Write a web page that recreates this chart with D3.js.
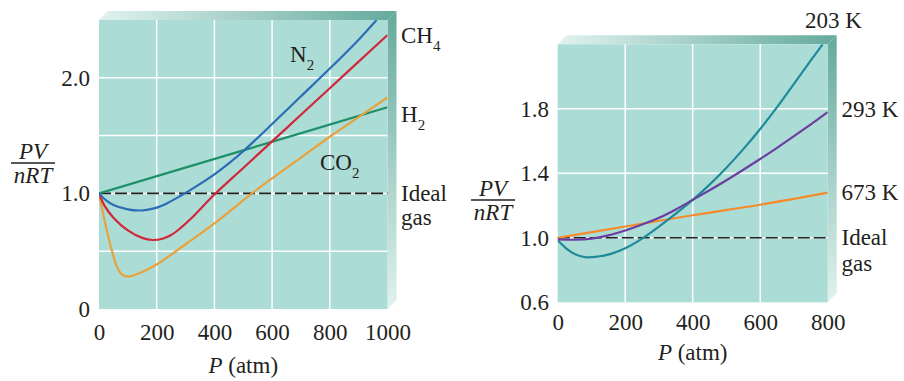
<!DOCTYPE html>
<html>
<head>
<meta charset="utf-8">
<script src="https://cdn.jsdelivr.net/npm/d3@7"></script>
<style>
  body { margin: 0; background: #fff; }
</style>
</head>
<body>
<div class="area"></div>
<script>
const width = 904
const height = 381
const fontFamily = '"Liberation Serif", "Times New Roman", serif'
const fontSize = 23
const textColor = "#231f20"
const plotFill = "#acdcd6"
const depth = 9

// ---- left panel: different gases ----
const gasTicksX = [0, 200, 400, 600, 800, 1000]
const gasTicksY = [0, 1, 2]
const gasTickLabelsY = ["0", "1.0", "2.0"]
const gasGridX = [200, 400, 600, 800]
const gasGridY = [0.5, 1.0, 1.5, 2.0]

const n2 = [[0, 1.0], [25, 0.94], [50, 0.9], [100, 0.862], [140, 0.852], [170, 0.86], [200, 0.877],
  [240, 0.92], [280, 0.975], [330, 1.05], [400, 1.165], [450, 1.26], [500, 1.365], [600, 1.6],
  [700, 1.84], [800, 2.08], [900, 2.33], [962, 2.5]]
const ch4 = [[0, 1.0], [20, 0.89], [50, 0.79], [100, 0.68], [150, 0.615], [185, 0.597], [220, 0.608],
  [250, 0.64], [280, 0.695], [320, 0.785], [400, 0.99], [500, 1.22], [600, 1.45], [700, 1.68],
  [800, 1.91], [900, 2.14], [1000, 2.37]]
const h2 = [[0, 1.0], [500, 1.372], [1000, 1.745]]
const co2 = [[0, 1.0], [20, 0.76], [40, 0.55], [60, 0.38], [75, 0.31], [90, 0.285], [110, 0.285],
  [140, 0.31], [200, 0.385], [300, 0.56], [400, 0.74], [530, 1.0], [600, 1.13], [700, 1.31],
  [800, 1.49], [900, 1.66], [1000, 1.83]]

// ---- right panel: N2 at different temperatures ----
const tempTicksX = [0, 200, 400, 600, 800]
const tempTicksY = [0.6, 1.0, 1.4, 1.8]
const tempTickLabelsY = ["0.6", "1.0", "1.4", "1.8"]
const tempGridX = [200, 400, 600]
const tempGridY = [1.0, 1.4, 1.8]

const t203 = [[0, 0.985], [25, 0.935], [50, 0.9], [85, 0.879], [120, 0.884], [160, 0.902],
  [200, 0.935], [250, 0.995], [300, 1.07], [350, 1.15], [400, 1.235], [450, 1.33], [500, 1.435],
  [550, 1.55], [600, 1.675], [650, 1.81], [700, 1.955], [750, 2.1], [785, 2.2]]
const t293 = [[0, 0.99], [50, 0.988], [100, 0.995], [150, 1.015], [200, 1.045], [250, 1.082],
  [300, 1.124], [350, 1.176], [400, 1.235], [450, 1.295], [500, 1.357], [550, 1.422], [600, 1.489],
  [650, 1.558], [700, 1.63], [750, 1.704], [800, 1.78]]
const t673 = [[0, 1.0], [200, 1.07], [400, 1.14], [600, 1.205], [800, 1.28]]

const svg = d3.select(".area")
  .append("svg")
  .attr("width", width)
  .attr("height", height)
  .attr("viewBox", [0, 0, width, height])
  .style("font-family", fontFamily)

const defs = svg.append("defs")
const topGrad = defs.append("linearGradient").attr("id", "topGrad")
  .attr("x1", 0).attr("x2", 1).attr("y1", 0).attr("y2", 0)
topGrad.append("stop").attr("offset", 0).attr("stop-color", "#e1f2ef")
topGrad.append("stop").attr("offset", 1).attr("stop-color", "#64aa9c")
const sideGrad = defs.append("linearGradient").attr("id", "sideGrad")
  .attr("x1", 0).attr("x2", 0).attr("y1", 0).attr("y2", 1)
sideGrad.append("stop").attr("offset", 0).attr("stop-color", "#64aa9c")
sideGrad.append("stop").attr("offset", 1).attr("stop-color", "#e1f2ef")

function subLabel(g, x, y, main, sub) {
  const t = g.append("text")
    .attr("x", x).attr("y", y)
    .attr("font-size", fontSize)
    .attr("fill", textColor)
  t.append("tspan").text(main)
  if (sub) {
    t.append("tspan").attr("font-size", 15).attr("dy", 8).text(sub)
  }
  return t
}

function drawPanel(p) {
  const g = svg.append("g")
  const x = d3.scaleLinear().domain(p.xDomain).range(p.xRange)
  const y = d3.scaleLinear().domain(p.yDomain).range(p.yRange)
  const [x0, x1] = p.xRange
  const [yb, yt] = p.yRange

  // 3d box faces
  g.append("path")
    .attr("d", `M${x0},${yt} L${x1},${yt} L${x1 + depth},${yt - depth} L${x0 + depth},${yt - depth} Z`)
    .attr("fill", "url(#topGrad)")
  g.append("path")
    .attr("d", `M${x1},${yt} L${x1 + depth},${yt - depth} L${x1 + depth},${yb - depth} L${x1},${yb} Z`)
    .attr("fill", "url(#sideGrad)")

  g.append("rect")
    .attr("x", x0).attr("y", yt)
    .attr("width", x1 - x0).attr("height", yb - yt)
    .attr("fill", plotFill)

  // grid
  g.append("g").selectAll("line").data(p.gridX).enter().append("line")
    .attr("x1", d => x(d)).attr("x2", d => x(d))
    .attr("y1", yb).attr("y2", yt)
    .attr("stroke", "#fff").attr("stroke-width", 1.5)
  g.append("g").selectAll("line").data(p.gridY).enter().append("line")
    .attr("x1", x0).attr("x2", x1)
    .attr("y1", d => y(d)).attr("y2", d => y(d))
    .attr("stroke", "#fff").attr("stroke-width", 1.5)

  // ideal gas line
  g.append("line")
    .attr("x1", x0).attr("x2", x1)
    .attr("y1", y(1)).attr("y2", y(1))
    .attr("stroke", "#222").attr("stroke-width", 1.6)
    .attr("stroke-dasharray", "12,4")

  const clipId = "clip" + p.id
  defs.append("clipPath").attr("id", clipId)
    .append("rect").attr("x", x0).attr("y", yt).attr("width", x1 - x0).attr("height", yb - yt)

  const line = d3.line()
    .x(d => x(d[0]))
    .y(d => y(d[1]))
    .curve(d3.curveCatmullRom.alpha(0.5))

  const curves = g.append("g").attr("clip-path", `url(#${clipId})`)
  p.series.forEach(s => {
    curves.append("path")
      .datum(s.data)
      .attr("fill", "none")
      .attr("stroke", s.color)
      .attr("stroke-width", 2.2)
      .attr("d", line)
  })

  // axes
  const xAxis = g.append("g")
    .attr("transform", `translate(0, ${yb})`)
    .call(d3.axisBottom(x).tickValues(p.ticksX).tickSize(0).tickPadding(p.xPad).tickFormat(d3.format("d")))
  const yAxis = g.append("g")
    .attr("transform", `translate(${x0}, 0)`)
    .call(d3.axisLeft(y).tickValues(p.ticksY).tickSize(0).tickPadding(p.yPad)
      .tickFormat((d, i) => p.tickLabelsY[i]))
  ;[xAxis, yAxis].forEach(a => {
    a.select(".domain").remove()
    a.attr("font-family", fontFamily).attr("font-size", fontSize)
    a.selectAll("text").attr("fill", textColor)
  })

  // x title
  const xt = g.append("text")
    .attr("x", (x0 + x1) / 2).attr("y", p.xTitleY)
    .attr("text-anchor", "middle")
    .attr("font-size", fontSize).attr("fill", textColor)
  xt.append("tspan").attr("font-style", "italic").text("P")
  xt.append("tspan").text(" (atm)")

  // y title as fraction
  const fx = p.fracX, fy = p.fracY
  g.append("text").attr("x", fx).attr("y", fy - 4)
    .attr("text-anchor", "middle").attr("font-style", "italic")
    .attr("font-size", fontSize).attr("fill", textColor).text("PV")
  g.append("line").attr("x1", fx - 22).attr("x2", fx + 22)
    .attr("y1", fy).attr("y2", fy)
    .attr("stroke", textColor).attr("stroke-width", 1.3)
  g.append("text").attr("x", fx).attr("y", fy + 20)
    .attr("text-anchor", "middle").attr("font-style", "italic")
    .attr("font-size", fontSize).attr("fill", textColor).text("nRT")

  p.labels.forEach(l => subLabel(g, l.x, l.y, l.text, l.sub))
}

drawPanel({
  id: "L",
  xDomain: [0, 1000], xRange: [99, 387.5],
  yDomain: [0, 2.5], yRange: [309, 20],
  gridX: gasGridX, gridY: gasGridY,
  ticksX: gasTicksX, ticksY: gasTicksY, tickLabelsY: gasTickLabelsY,
  xPad: 14.5, yPad: 9,
  xTitleY: 373,
  fracX: 33, fracY: 163,
  series: [
    { data: h2, color: "#1f9068" },
    { data: co2, color: "#e9a23b" },
    { data: ch4, color: "#d0283a" },
    { data: n2, color: "#2c6db5" }
  ],
  labels: [
    { x: 290, y: 62, text: "N", sub: "2" },
    { x: 320, y: 170, text: "CO", sub: "2" },
    { x: 401, y: 43, text: "CH", sub: "4" },
    { x: 401, y: 122, text: "H", sub: "2" },
    { x: 401, y: 201, text: "Ideal" },
    { x: 401, y: 225, text: "gas" }
  ]
})

drawPanel({
  id: "R",
  xDomain: [0, 800], xRange: [557.7, 827.7],
  yDomain: [0.6, 2.2], yRange: [302.3, 44.3],
  gridX: tempGridX, gridY: tempGridY,
  ticksX: tempTicksX, ticksY: tempTicksY, tickLabelsY: tempTickLabelsY,
  xPad: 11.5, yPad: 8.7,
  xTitleY: 360,
  fracX: 493, fracY: 200,
  series: [
    { data: t673, color: "#f68b2c" },
    { data: t203, color: "#1f8a9a" },
    { data: t293, color: "#6a3fa0" }
  ],
  labels: [
    { x: 805, y: 28, text: "203 K" },
    { x: 841.5, y: 117, text: "293 K" },
    { x: 841.5, y: 200, text: "673 K" },
    { x: 841.5, y: 245, text: "Ideal" },
    { x: 841.5, y: 271, text: "gas" }
  ]
})
</script>
</body>
</html>
